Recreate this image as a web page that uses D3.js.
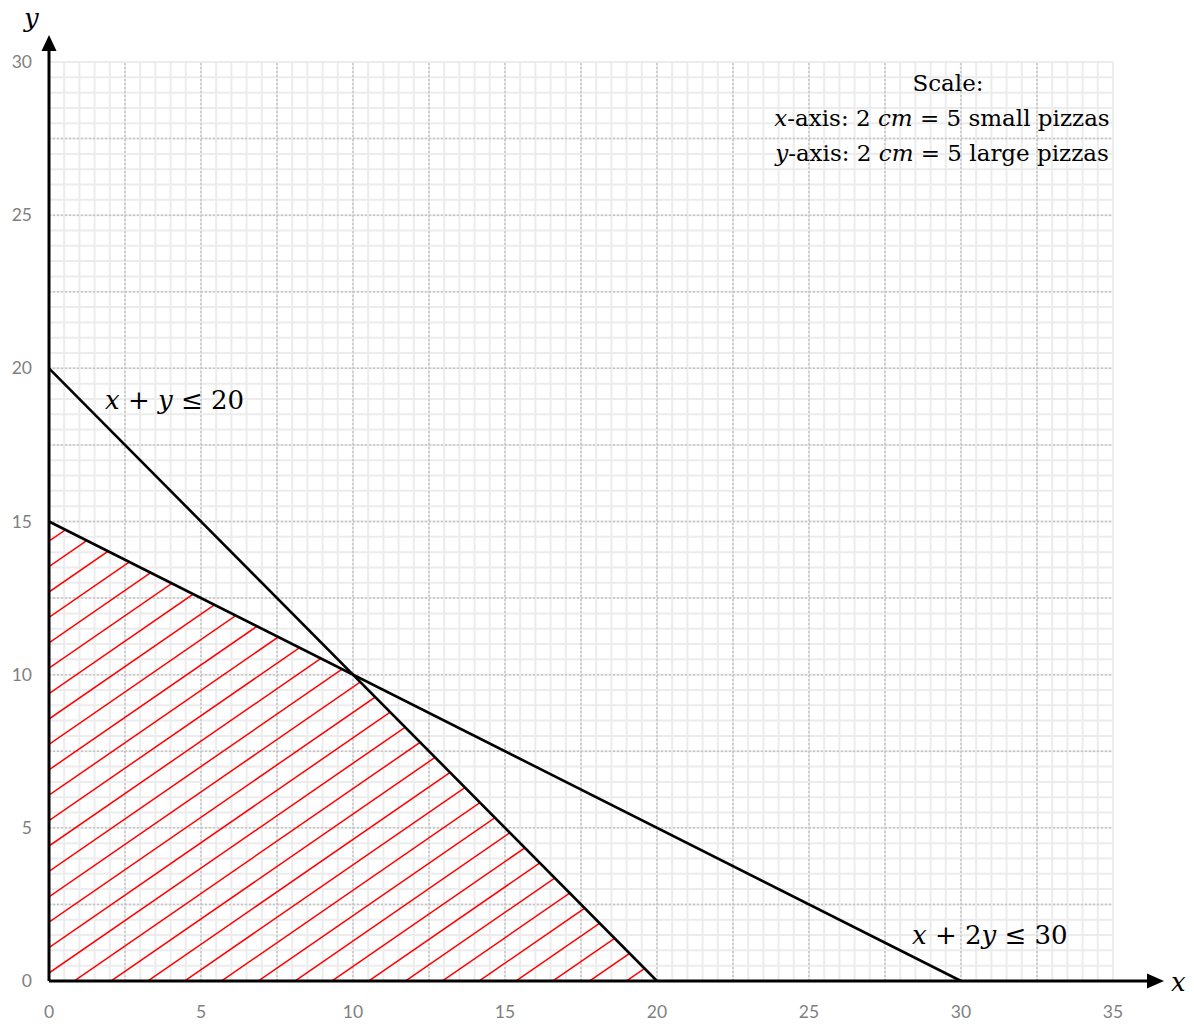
<!DOCTYPE html>
<html>
<head>
<meta charset="utf-8">
<script src="https://cdn.jsdelivr.net/npm/d3@7"></script>
<style>
  html, body { margin: 0; padding: 0; background: #fff; }
  svg { display: block; }
  .tick-label { font-family: Lato, "Open Sans", sans-serif; font-size: 17.5px; fill: #7f7f7f; }
  .math { font-family: "DejaVu Serif", "Liberation Serif", serif; font-size: 26px; fill: #000; }
</style>
</head>
<body>
<script>
// Axis ranges and tick values
const xDomain = [0, 35];
const yDomain = [0, 30];
const xTicks = [0, 5, 10, 15, 20, 25, 30, 35];
const yTicks = [0, 5, 10, 15, 20, 25, 30];

// Constraint boundary lines (endpoints on the axes)
const lineSum = [[0, 20], [20, 0]];        // x + y = 20
const lineDouble = [[0, 15], [30, 0]];     // x + 2y = 30

// Feasible region vertices
const feasible = [[0, 0], [0, 15], [10, 10], [20, 0]];

const W = 1194, H = 1024;
const svg = d3.select("body").append("svg").attr("width", W).attr("height", H);

const x = d3.scaleLinear().domain(xDomain).range([49, 1113]);
const y = d3.scaleLinear().domain(yDomain).range([981, 62]);

// Graph-paper grid: fine lines every 0.5, dotted lines every 2.5
const minorX = d3.range(0, 35.01, 0.5), minorY = d3.range(0, 30.01, 0.5);
const grid = svg.append("g");
grid.selectAll(".mx").data(minorX).join("line")
  .attr("x1", d => x(d)).attr("x2", d => x(d)).attr("y1", y(0)).attr("y2", y(30))
  .attr("stroke", "#ececec").attr("stroke-width", 2);
grid.selectAll(".my").data(minorY).join("line")
  .attr("y1", d => y(d)).attr("y2", d => y(d)).attr("x1", x(0)).attr("x2", x(35))
  .attr("stroke", "#ececec").attr("stroke-width", 2);
const majorX = d3.range(2.5, 35, 2.5), majorY = d3.range(2.5, 30, 2.5);
grid.selectAll(".Mx").data(majorX).join("line")
  .attr("x1", d => x(d)).attr("x2", d => x(d)).attr("y1", y(0)).attr("y2", y(30))
  .attr("stroke", "#c4c4c4").attr("stroke-width", 1.5).attr("stroke-dasharray", "2,2");
grid.selectAll(".My").data(majorY).join("line")
  .attr("y1", d => y(d)).attr("y2", d => y(d)).attr("x1", x(0)).attr("x2", x(35))
  .attr("stroke", "#c4c4c4").attr("stroke-width", 1.5).attr("stroke-dasharray", "2,2");

// Hatching of the feasible region, clipped to its polygon
const line = d3.line().x(d => x(d[0])).y(d => y(d[1]));
svg.append("clipPath").attr("id", "feasible-clip")
  .append("path").attr("d", line(feasible) + "Z");
const hatch = svg.append("g").attr("clip-path", "url(#feasible-clip)");
const slope = 0.69, gap = 25.4;
const x0 = x(0), xEnd = x(20), yBase = 973;
const offsets = d3.range(-40, 40).map(i => yBase + i * gap);
hatch.selectAll("line").data(offsets).join("line")
  .attr("x1", x0 - 20).attr("y1", d => d + 20 * slope)
  .attr("x2", xEnd + 20).attr("y2", d => d - (xEnd + 20 - x0) * slope)
  .attr("stroke", "#ff0000").attr("stroke-width", 1.5);

// Constraint lines
[lineSum, lineDouble].forEach(seg => {
  svg.append("path").attr("d", line(seg)).attr("fill", "none")
    .attr("stroke", "#000").attr("stroke-width", 2.6);
});

// Axes with arrowheads
svg.append("line").attr("x1", x(0)).attr("y1", y(0)).attr("x2", 1150).attr("y2", y(0))
  .attr("stroke", "#000").attr("stroke-width", 3);
svg.append("path").attr("d", `M1164,${y(0)} L1147,${y(0) - 7.5} L1147,${y(0) + 7.5} Z`).attr("fill", "#000");
svg.append("line").attr("x1", x(0)).attr("y1", y(0)).attr("x2", x(0)).attr("y2", 50)
  .attr("stroke", "#000").attr("stroke-width", 3);
svg.append("path").attr("d", `M${x(0)},35 L${x(0) - 7.5},51 L${x(0) + 7.5},51 Z`).attr("fill", "#000");

// Tick labels
svg.selectAll(".xt").data(xTicks).join("text").attr("class", "tick-label")
  .attr("x", d => x(d)).attr("y", 1018).attr("text-anchor", "middle").text(d => d);
svg.selectAll(".yt").data(yTicks).join("text").attr("class", "tick-label")
  .attr("x", 32).attr("y", d => y(d) + 6).attr("text-anchor", "end").text(d => d);

// Helper for math text: parts are [text, italic]
function mathText(parent, px, py, parts, anchor) {
  const t = parent.append("text").attr("class", "math").attr("x", px).attr("y", py)
    .attr("text-anchor", anchor || "start").attr("xml:space", "preserve");
  parts.forEach(([s, it]) => t.append("tspan").attr("font-style", it ? "italic" : "normal").text(s));
  return t;
}

// Axis names
mathText(svg, 1171, 991, [["x", true]]);
mathText(svg, 24, 27, [["y", true]]);

// Constraint labels
mathText(svg, 105, 409, [["x", true], [" + ", false], ["y", true], [" ≤ 20", false]]);
mathText(svg, 912, 944, [["x", true], [" + 2", false], ["y", true], [" ≤ 30", false]]);

// Scale note
const note = svg.append("g");
mathText(note, 948, 91, [["Scale:", false]], "middle").style("font-size", "23px");
mathText(note, 942, 126, [["x", true], ["-axis: 2 ", false], ["cm", true], [" = 5 small pizzas", false]], "middle").style("font-size", "23px");
mathText(note, 942, 161, [["y", true], ["-axis: 2 ", false], ["cm", true], [" = 5 large pizzas", false]], "middle").style("font-size", "23px");
</script>
</body>
</html>
